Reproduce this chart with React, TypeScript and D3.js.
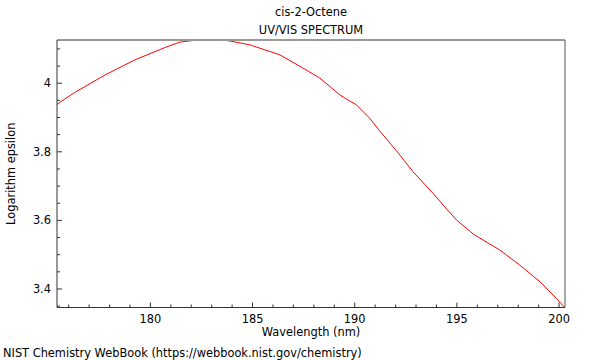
import React from "react";
import * as d3 from "d3";

const wavelength = [
  175.43, 175.66, 176.3, 177.37, 177.78, 179.24, 180.71, 181.45, 182.42, 183.4,
  183.89, 184.87, 185.36, 186.33, 187.47, 188.29, 189.27, 189.59, 190.08, 190.73,
  191.18, 192.04, 192.85, 193.83, 194.4, 195.0, 195.85, 197.09, 198.07, 199.05,
  199.86, 200.26,
];
const logEpsilon = [
  3.938, 3.948, 3.973, 4.01, 4.024, 4.068, 4.104, 4.12, 4.127, 4.127,
  4.123, 4.112, 4.102, 4.083, 4.044, 4.015, 3.966, 3.954, 3.937, 3.898,
  3.864, 3.803, 3.742, 3.679, 3.64, 3.6, 3.558, 3.514, 3.47, 3.422,
  3.373, 3.347,
];
const xMajorTicks = [180, 185, 190, 195, 200];
const yMajorTicks = [3.4, 3.6, 3.8, 4.0];
const xDomain = [175.43, 200.29];
const yDomain = [3.346, 4.126];
const titleLines = ["cis-2-Octene", "UV/VIS SPECTRUM"];
const xLabel = "Wavelength (nm)";
const yLabel = "Logarithm epsilon";
const footer = "NIST Chemistry WebBook (https://webbook.nist.gov/chemistry)";

const W = 600;
const H = 360;
const M = { left: 57, right: 565, top: 40, bottom: 307.5 };
const FONT = "'DejaVu Sans', sans-serif";
const FS = 11.4;

export default function App() {
  const x = d3.scaleLinear().domain(xDomain).range([M.left, M.right]);
  const y = d3.scaleLinear().domain(yDomain).range([M.bottom, M.top]);
  const data = wavelength.map((w, i) => [w, logEpsilon[i]] as [number, number]);
  const line = d3
    .line<[number, number]>()
    .x((d) => x(d[0]))
    .y((d) => y(d[1]));

  const xMinor = d3.range(176, 201, 1).filter((v) => v % 5 !== 0);
  const yMinor = d3
    .range(3.35, 4.126, 0.05)
    .filter((v) => !yMajorTicks.some((t) => Math.abs(t - v) < 0.001));

  return (
    <svg
      width={W}
      height={H}
      style={{ position: "absolute", left: 0, top: 0, background: "#fff" }}
      fontFamily={FONT}
    >
      <rect x={0} y={0} width={W} height={H} fill="#fff" />
      <defs>
        <clipPath id="plotclip">
          <rect x={M.left} y={M.top} width={M.right - M.left} height={M.bottom - M.top} />
        </clipPath>
      </defs>
      {titleLines.map((t, i) => (
        <text
          key={t}
          x={(M.left + M.right) / 2}
          y={16 + i * 18}
          textAnchor="middle"
          fontSize={FS}
          fill="#000"
        >
          {t}
        </text>
      ))}
      <path
        d={line(data) || ""}
        fill="none"
        stroke="#ff0000"
        strokeWidth={1}
        clipPath="url(#plotclip)"
      />
      {/* frame */}
      <line x1={M.left} x2={M.right} y1={M.top} y2={M.top} stroke="#999" strokeWidth={2} />
      <line x1={M.right} x2={M.right} y1={M.top} y2={M.bottom} stroke="#555" strokeWidth={1} />
      <line x1={M.left} x2={M.left} y1={M.top} y2={M.bottom} stroke="#333" strokeWidth={1} />
      <line x1={M.left} x2={M.right} y1={M.bottom} y2={M.bottom} stroke="#333" strokeWidth={1} />
      {/* x ticks */}
      {xMajorTicks.map((t) => (
        <g key={"xt" + t}>
          <line x1={x(t)} x2={x(t)} y1={M.bottom} y2={M.bottom - 5} stroke="#333" />
          <text x={x(t)} y={M.bottom + 15.5} textAnchor="middle" fontSize={FS} fill="#000">
            {t}
          </text>
        </g>
      ))}
      {xMinor.map((t) => (
        <line key={"xm" + t} x1={x(t)} x2={x(t)} y1={M.bottom} y2={M.bottom - 3} stroke="#333" />
      ))}
      {/* y ticks */}
      {yMajorTicks.map((t) => (
        <g key={"yt" + t}>
          <line x1={M.left} x2={M.left + 5} y1={y(t)} y2={y(t)} stroke="#333" />
          <text x={M.left - 6} y={y(t) + 4} textAnchor="end" fontSize={FS} fill="#000">
            {d3.format("~g")(t)}
          </text>
        </g>
      ))}
      {yMinor.map((t) => (
        <line key={"ym" + t} x1={M.left} x2={M.left + 3} y1={y(t)} y2={y(t)} stroke="#333" />
      ))}
      <text
        x={(M.left + M.right) / 2}
        y={336}
        textAnchor="middle"
        fontSize={FS}
        fill="#000"
      >
        {xLabel}
      </text>
      <text
        transform={`translate(15, ${(M.top + M.bottom) / 2}) rotate(-90)`}
        textAnchor="middle"
        fontSize={FS}
        fill="#000"
      >
        {yLabel}
      </text>
      <text x={3} y={356.5} fontSize={FS} fill="#000">
        {footer}
      </text>
    </svg>
  );
}
